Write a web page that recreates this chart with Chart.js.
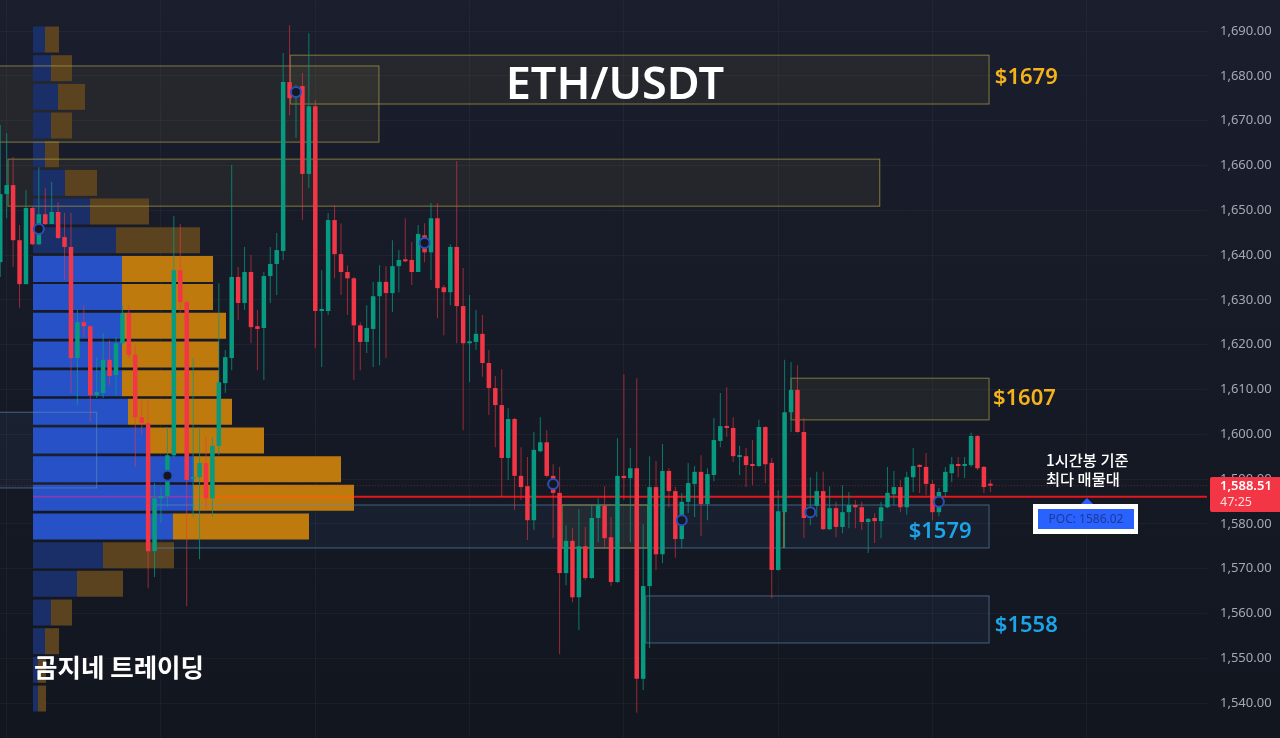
<!DOCTYPE html>
<html>
<head>
<meta charset="utf-8">
<title>ETH/USDT</title>
<script src="https://cdn.jsdelivr.net/npm/chart.js@4"></script>
<style>
    html, body { margin: 0; padding: 0; background: #131722; overflow: hidden; }
    #wrap { width: 1280px; height: 738px; }
</style>
</head>
<body>
<div id="wrap"><canvas id="ethChart" width="1280" height="738"></canvas></div>
<script>
// hourly candles, one per bar index
const opens = [
    1638.4,1653.6,1655.6,1643.3,1633.5,1650.5,1642.4,1649.1,1646.9,1649.6,
    1644.0,1641.8,1617.0,1625.0,1624.1,1608.7,1609.2,1616.6,1613.2,1620.3,
    1627.0,1617.7,1603.8,1602.5,1573.9,1585.7,1586.2,1595.3,1636.6,1629.5,
    1590.0,1590.4,1593.6,1585.7,1597.4,1611.4,1617.0,1635.1,1629.3,1636.2,
    1624.1,1623.7,1635.3,1638.0,1640.9,1678.6,1675.2,1677.7,1658.1,1673.2,
    1627.5,1627.5,1647.8,1640.2,1636.2,1634.8,1624.3,1620.6,1623.5,1630.8,
    1634.0,1631.5,1637.5,1638.9,1638.9,1636.2,1644.4,1640.6,1648.2,1632.8,
    1631.7,1641.8,1628.6,1620.3,1620.6,1622.4,1615.9,1610.3,1606.5,1594.7,
    1603.4,1590.7,1588.4,1580.8,1596.2,1598.2,1590.7,1586.9,1569.0,1576.2,
    1563.6,1575.0,1567.9,1581.3,1584.0,1577.0,1567.0,1590.7,1590.2,1592.4,
    1545.4,1566.1,1588.2,1573.2,1591.8,1587.3,1576.6,1584.9,1588.9,1591.6,
    1584.4,1590.9,1598.5,1601.8,1601.4,1594.9,1595.1,1593.3,1592.9,1601.6,
    1593.6,1569.7,1582.6,1604.9,1609.9,1600.5,1581.3,1584.0,1587.3,1578.8,
    1583.5,1579.3,1582.6,1584.2,1583.7,1580.4,1581.3,1580.6,1583.7,1586.6,
    1588.2,1583.7,1590.4,1593.1,1592.7,1588.9,1582.6,1587.1,1591.3,1593.3,
    1592.9,1593.1,1599.6,1592.7,1588.9
];
const closes = [
    1653.6,1655.6,1643.3,1633.5,1650.5,1642.4,1649.1,1646.9,1649.6,1643.8,
    1641.8,1617.0,1625.0,1624.1,1608.7,1609.4,1616.6,1613.0,1620.3,1627.0,
    1617.7,1603.8,1602.5,1573.9,1585.7,1586.2,1595.3,1636.6,1629.5,1589.8,
    1590.4,1593.6,1585.7,1597.4,1611.6,1617.2,1635.1,1629.3,1636.2,1623.9,
    1623.5,1635.3,1638.0,1641.1,1678.6,1675.0,1677.3,1658.1,1673.2,1627.5,
    1627.9,1647.8,1640.2,1636.2,1634.8,1624.3,1620.6,1623.7,1630.8,1634.0,
    1631.5,1637.5,1638.9,1638.6,1636.2,1644.7,1640.6,1648.2,1632.6,1631.7,
    1641.8,1628.6,1620.3,1620.6,1622.4,1615.9,1610.3,1606.5,1594.7,1603.4,
    1590.7,1588.2,1580.8,1596.5,1598.2,1590.7,1586.9,1569.0,1576.2,1563.6,
    1575.0,1567.9,1581.3,1584.2,1576.8,1567.0,1590.7,1590.2,1592.4,1545.4,
    1566.1,1588.2,1573.2,1591.8,1587.3,1576.6,1584.9,1589.1,1591.6,1584.4,
    1591.1,1598.7,1601.8,1601.4,1595.1,1595.1,1593.1,1592.9,1601.6,1593.3,
    1569.7,1582.8,1604.9,1609.9,1600.5,1581.3,1583.7,1587.3,1578.8,1583.5,
    1579.3,1582.6,1584.2,1583.7,1580.4,1581.1,1580.6,1583.7,1586.9,1588.2,
    1583.7,1590.4,1592.9,1592.7,1588.9,1582.6,1587.1,1591.6,1593.3,1592.9,
    1593.3,1599.6,1592.4,1588.2,1588.51
];
const highs = [
    1669.0,1667.2,1661.9,1646.7,1654.5,1650.7,1659.6,1654.9,1656.3,1651.8,
    1649.4,1649.4,1627.7,1628.8,1624.4,1617.2,1622.6,1621.0,1621.7,1628.8,
    1628.8,1619.9,1607.6,1607.6,1589.1,1588.2,1601.6,1648.7,1646.9,1629.9,
    1617.0,1601.6,1599.4,1599.4,1633.7,1618.8,1660.1,1637.3,1641.8,1640.0,
    1627.7,1636.2,1641.8,1644.9,1685.1,1691.3,1677.9,1680.6,1689.5,1674.6,
    1636.6,1649.4,1651.1,1647.1,1637.7,1635.1,1625.0,1628.8,1634.0,1637.7,
    1637.5,1643.3,1641.1,1648.2,1642.9,1646.7,1647.1,1651.6,1651.6,1633.3,
    1642.4,1661.0,1637.1,1631.1,1627.7,1626.6,1618.8,1613.0,1614.5,1605.8,
    1603.6,1597.1,1594.9,1600.5,1603.8,1600.9,1593.3,1592.7,1579.7,1579.0,
    1583.3,1579.3,1584.2,1585.7,1588.4,1581.5,1599.1,1613.4,1596.9,1612.5,
    1579.9,1595.1,1594.0,1597.8,1592.4,1588.2,1586.9,1593.6,1592.9,1595.3,
    1592.4,1603.6,1609.2,1610.5,1603.8,1597.4,1596.9,1598.7,1603.2,1601.8,
    1594.7,1587.5,1616.6,1616.1,1615.4,1603.6,1590.4,1591.6,1591.6,1588.4,
    1584.9,1588.6,1587.1,1585.3,1584.9,1581.3,1582.4,1584.9,1592.7,1591.8,
    1589.8,1591.6,1596.9,1593.3,1595.8,1589.8,1588.0,1592.7,1594.9,1594.9,
    1594.9,1600.3,1599.8,1592.9,1589.8
];
const lows = [
    1635.1,1648.2,1637.3,1628.2,1633.5,1642.2,1642.2,1646.7,1646.9,1643.6,
    1634.4,1609.2,1606.5,1621.7,1602.7,1608.1,1608.1,1611.0,1608.7,1619.9,
    1617.0,1592.7,1599.8,1565.6,1568.1,1580.2,1583.7,1594.7,1627.0,1561.6,
    1581.5,1572.1,1583.5,1581.5,1595.3,1609.2,1614.3,1625.5,1627.7,1620.3,
    1614.3,1612.1,1629.3,1631.1,1638.9,1671.2,1666.1,1647.8,1654.9,1619.2,
    1615.0,1626.6,1634.8,1631.1,1626.6,1612.1,1614.3,1618.1,1615.0,1615.4,
    1617.0,1627.3,1631.7,1638.4,1633.3,1636.2,1638.4,1634.4,1625.9,1622.1,
    1628.8,1620.3,1600.9,1611.6,1618.8,1612.8,1604.3,1597.1,1586.0,1589.8,
    1583.1,1585.3,1576.4,1578.6,1596.0,1590.4,1576.8,1550.9,1566.3,1562.5,
    1556.3,1567.4,1567.7,1575.9,1574.8,1566.1,1566.8,1585.3,1575.9,1537.8,
    1542.9,1552.3,1569.7,1571.2,1583.7,1572.4,1574.6,1582.4,1581.5,1577.3,
    1580.8,1589.5,1597.1,1599.4,1593.8,1590.9,1588.2,1588.6,1592.7,1589.1,
    1563.4,1569.5,1574.6,1600.5,1600.3,1576.8,1579.7,1581.5,1578.6,1578.6,
    1577.0,1577.9,1579.0,1579.0,1578.6,1573.5,1575.7,1576.8,1583.5,1584.2,
    1582.6,1582.0,1587.1,1586.9,1586.4,1580.8,1581.7,1586.0,1589.3,1590.4,
    1590.2,1592.7,1592.0,1586.9,1587.1
];

// volume profile rows
const profilePrices = [1688.1,1681.7,1675.3,1668.9,1662.5,1656.1,1649.7,1643.3,1636.9,1630.6,1624.2,1617.8,1611.4,1605.0,1598.6,1592.2,1585.8,1579.4,1573.0,1566.6,1560.2,1553.8,1547.4,1541.0];
const buyVolume   = [12,18,25,18,12,32,57,83,89,89,89,89,89,95,115,161,160,140,70,44,18,12,5,5];
const totalVolume = [26,39,52,39,26,64,116,167,180,180,193,186,186,199,231,308,321,276,141,90,39,26,13,13];
const valueAreaRows = [8,9,10,11,12,13,14,15,16,17];

// supply / demand zones
const zoneStart = [45.1,-1,1.2,123,-1,24,87.4,121.9,100.4];
const zoneEnd   = [153.8,58.9,136.8,153.8,15,153.8,100.7,121.9,153.8];
const zoneHigh  = [1684.6,1682.2,1661.4,1612.5,1604.9,1584.2,1584.2,1584.2,1563.9];
const zoneLow   = [1673.7,1665.2,1650.9,1603.2,1588.0,1574.6,1574.6,1574.6,1553.4];
const zoneKind  = ['sell','sell','sell','sell','buy','buy','sell','sell','buy'];

const zoneLabels = ['$1679','$1607','$1579','$1558'];
const zoneLabelBars = [154.7,154.4,141.3,154.7];
const zoneLabelPrices = [1679.5,1607.9,1578.2,1557.2];

// pivot markers on the candles
const markerBars = [6,26,46,66,86,106,126,146];
const markerPrices = [1645.8,1590.7,1676.4,1642.7,1588.9,1580.8,1582.6,1584.9];

const pocPrice = 1586.02;
const pocBars = [5.1,30,55,188];
const lastPrice = 1588.51;
const lastBars = [-1,188];
const gridBars = [1,25,49,73,97,121,145,169];

const UP = '#089981';
const DOWN = '#f23645';

function money(v) {
    return v.toLocaleString('en-US', { minimumFractionDigits: 2, maximumFractionDigits: 2 });
}

function eachZone(chart, draw) {
    const { ctx, scales } = chart;
    ctx.save();
    ctx.lineWidth = 1;
    zoneStart.forEach((start, i) => {
        const left = scales.x.getPixelForValue(start);
        const right = scales.x.getPixelForValue(zoneEnd[i]);
        const top = scales.y.getPixelForValue(zoneHigh[i]);
        const bottom = scales.y.getPixelForValue(zoneLow[i]);
        draw(ctx, left, top, right - left, bottom - top, zoneKind[i] === 'sell');
    });
    ctx.restore();
}

function drawLabels(chart) {
    const { ctx, scales } = chart;
    ctx.save();
    ctx.textBaseline = 'middle';

    // title
    ctx.fillStyle = '#ffffff';
    ctx.textAlign = 'center';
    ctx.font = '600 45px "Noto Sans"';
    ctx.fillText('ETH/USDT', scales.x.getPixelForValue(95.6), scales.y.getPixelForValue(1677.6));

    // zone prices
    ctx.textAlign = 'left';
    ctx.font = '600 22px "Noto Sans"';
    zoneLabels.forEach((text, i) => {
        ctx.fillStyle = i < 2 ? '#f5b21a' : '#1ba5e8';
        ctx.fillText(text, scales.x.getPixelForValue(zoneLabelBars[i]), scales.y.getPixelForValue(zoneLabelPrices[i]));
    });

    // watermark
    ctx.fillStyle = '#ffffff';
    ctx.font = '700 25.5px "Noto Sans CJK KR"';
    ctx.fillText('곰지네 트레이딩', 34, 667);

    // POC note
    ctx.font = '500 15.3px "Noto Sans CJK KR"';
    ctx.fillText('1시간봉 기준', 1046, 460);
    ctx.fillText('최다 매물대', 1046, 479);

    ctx.fillStyle = '#ffffff';
    ctx.fillRect(1033, 504, 105, 30);
    ctx.fillStyle = '#2962ff';
    ctx.fillRect(1038, 509, 96, 20);
    ctx.beginPath();
    ctx.moveTo(1087, 498);
    ctx.lineTo(1093, 504);
    ctx.lineTo(1081, 504);
    ctx.closePath();
    ctx.fill();
    ctx.fillStyle = '#1e3a94';
    ctx.textAlign = 'center';
    ctx.font = '12px "Noto Sans"';
    ctx.fillText('POC: ' + pocPrice.toFixed(2), 1086, 520);

    // last price tag on the axis
    ctx.fillStyle = '#f23645';
    ctx.beginPath();
    ctx.roundRect(1210, 477, 70, 35, [2, 0, 0, 2]);
    ctx.fill();
    ctx.textAlign = 'left';
    ctx.fillStyle = '#ffffff';
    ctx.font = '600 13px "Noto Sans"';
    ctx.fillText(money(lastPrice), 1220, 486.5);
    ctx.fillStyle = '#ffd9dd';
    ctx.font = '12.5px "Noto Sans"';
    ctx.fillText('47:25', 1220, 502.5);
    ctx.restore();
}

const chartDecor = {
    id: 'chartDecor',
    beforeDraw(chart) {
        const { ctx, width, height } = chart;
        const bg = ctx.createLinearGradient(0, 0, 0, height);
        bg.addColorStop(0, '#1a1e2d');
        bg.addColorStop(1, '#12161f');
        ctx.save();
        ctx.fillStyle = bg;
        ctx.fillRect(0, 0, width, height);
        ctx.restore();
    },
    // zone fills go under the profile, their outlines over it and under the candles
    beforeDatasetsDraw(chart) {
        eachZone(chart, (ctx, x, y, w, h, sell) => {
            ctx.fillStyle = sell ? 'rgba(190,180,80,0.075)' : 'rgba(70,120,180,0.09)';
            ctx.fillRect(x, y, w, h);
        });
    },
    afterDatasetDraw(chart, args) {
        if (chart.data.datasets[args.index].label !== 'Sell volume') return;
        eachZone(chart, (ctx, x, y, w, h, sell) => {
            ctx.strokeStyle = sell ? 'rgba(176,162,70,0.68)' : 'rgba(96,140,180,0.62)';
            ctx.strokeRect(x, y, w, h);
        });
    },
    afterDraw(chart) {
        drawLabels(chart);
    }
};

const candleBars = closes.map((c, i) => ({ x: i, y: [opens[i], c] }));
const wickBars = highs.map((h, i) => ({ x: i, y: [lows[i], h] }));
const isUp = closes.map((c, i) => c >= opens[i]);

const rowColor = (bright, dim) => profilePrices.map((p, i) => valueAreaRows.includes(i) ? bright : dim);

new Chart(document.getElementById('ethChart'), {
    type: 'bar',
    plugins: [chartDecor],
    data: {
        datasets: [
            {
                label: 'Buy volume',
                indexAxis: 'y',
                xAxisID: 'xVol',
                yAxisID: 'y',
                data: profilePrices.map((p, i) => ({ y: p, x: [0, buyVolume[i]] })),
                backgroundColor: rowColor('#2752c7', '#1a2f68'),
                barThickness: 26,
                inflateAmount: 0,
                grouped: false,
                order: 11
            },
            {
                label: 'Sell volume',
                indexAxis: 'y',
                xAxisID: 'xVol',
                yAxisID: 'y',
                data: profilePrices.map((p, i) => ({ y: p, x: [buyVolume[i], totalVolume[i]] })),
                backgroundColor: rowColor('#bf7a0e', '#5b4320'),
                barThickness: 26,
                inflateAmount: 0,
                grouped: false,
                order: 10
            },
            {
                label: 'Last price',
                type: 'line',
                data: lastBars.map(b => ({ x: b, y: lastPrice })),
                borderColor: 'rgba(242,54,69,0.4)',
                borderWidth: 1,
                borderDash: [1, 2],
                pointRadius: 0,
                order: 6
            },
            {
                label: 'POC',
                type: 'line',
                data: pocBars.map(b => ({ x: b, y: pocPrice })),
                borderWidth: 2,
                pointRadius: 0,
                segment: {
                    borderColor: ctx => ['rgba(190,50,170,0.55)', '#e8670c', '#e5161c'][ctx.p0DataIndex]
                },
                order: 5
            },
            {
                label: 'Wicks',
                data: wickBars,
                backgroundColor: isUp.map(up => up ? 'rgba(8,153,129,0.75)' : 'rgba(242,54,69,0.6)'),
                barThickness: 1,
                inflateAmount: 0,
                grouped: false,
                order: 4
            },
            {
                label: 'Candles',
                data: candleBars,
                backgroundColor: isUp.map(up => up ? UP : DOWN),
                barThickness: 4.5,
                minBarLength: 2,
                inflateAmount: 0,
                grouped: false,
                order: 3
            },
            {
                label: 'Pivots',
                type: 'line',
                showLine: false,
                data: markerBars.map((b, i) => ({ x: b, y: markerPrices[i] })),
                pointStyle: 'circle',
                pointRadius: 5,
                pointBorderWidth: 2,
                pointBackgroundColor: '#131722',
                pointBorderColor: '#2a4fb8',
                order: 1
            }
        ]
    },
    options: {
        responsive: false,
        animation: false,
        layout: { padding: 0, autoPadding: false },
        plugins: { legend: { display: false }, tooltip: { enabled: false } },
        scales: {
            x: {
                type: 'linear',
                min: -0.04,
                max: 187.7,
                offset: false,
                border: { display: false },
                grid: { offset: false, color: 'rgba(255,255,255,0.035)', drawTicks: false },
                ticks: { display: false },
                afterBuildTicks: scale => { scale.ticks = gridBars.map(v => ({ value: v })); }
            },
            xVol: {
                type: 'linear',
                display: false,
                min: -33,
                max: 1174,
                offset: false
            },
            y: {
                type: 'linear',
                position: 'right',
                min: 1532.19,
                max: 1696.92,
                offset: false,
                border: { display: false },
                grid: { offset: false, color: 'rgba(255,255,255,0.035)', drawTicks: false },
                ticks: {
                    stepSize: 10,
                    includeBounds: false,
                    padding: 13,
                    color: '#a5a8b2',
                    font: { family: '"Noto Sans"', size: 13 },
                    callback: v => money(v)
                },
                // tick padding would otherwise also inset the plot top and bottom
                afterFit: scale => {
                    scale.width = 73;
                    scale.paddingTop = 0;
                    scale.paddingBottom = 0;
                }
            }
        }
    }
});
</script>
</body>
</html>
